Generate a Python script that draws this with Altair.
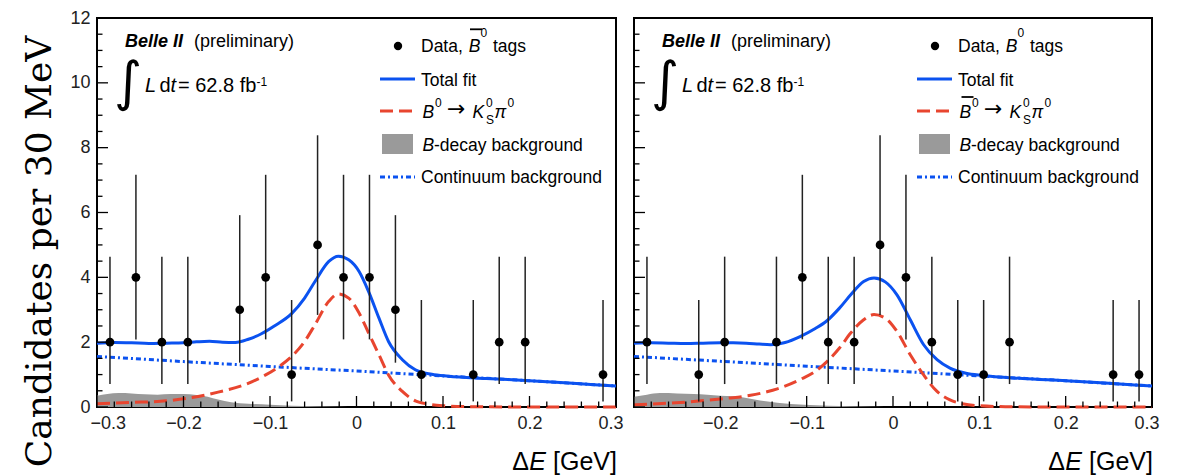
import altair as alt
import numpy as np
import pandas as pd

# ---------------------------------------------------------------
# Delta E distributions of B0 -> K0S pi0 candidates, split by flavour tag.
# Bin centres are 30 MeV apart; empty bins are not drawn.
# ---------------------------------------------------------------

# B0bar-tagged sample
BAR_BIN = [-0.285, -0.255, -0.225, -0.195, -0.135, -0.105, -0.075, -0.045,
           -0.015, 0.015, 0.045, 0.075, 0.135, 0.165, 0.195, 0.285]
BAR_COUNT = [2, 4, 2, 2, 3, 4, 1, 5, 4, 4, 3, 1, 1, 2, 2, 1]
BAR_ERR_LO = [0.708, 2.086, 0.708, 0.708, 1.367, 2.086, 0.173, 2.840,
              2.086, 2.086, 1.367, 0.173, 0.173, 0.708, 0.708, 0.173]
BAR_ERR_HI = [4.638, 7.163, 4.638, 4.638, 5.918, 7.163, 3.300, 8.382,
              7.163, 7.163, 5.918, 3.300, 3.300, 4.638, 4.638, 3.300]

BAR_TOTAL_X = [-0.300, -0.280, -0.260, -0.240, -0.220, -0.200, -0.185, -0.170,
               -0.155, -0.140, -0.125, -0.110, -0.095, -0.075, -0.060, -0.048,
               -0.032, -0.021, -0.009, 0.003, 0.014, 0.026, 0.037, 0.053,
               0.068, 0.087, 0.106, 0.150, 0.200, 0.250, 0.300]
BAR_TOTAL_Y = [1.97, 1.99, 1.98, 1.96, 1.97, 1.98, 2.01, 2.03,
               2.00, 1.99, 2.09, 2.26, 2.50, 2.88, 3.36, 3.87,
               4.49, 4.65, 4.54, 4.18, 3.56, 2.74, 2.02, 1.46,
               1.15, 1.01, 0.95, 0.88, 0.81, 0.73, 0.65]

BAR_SIG_X = [-0.300, -0.260, -0.220, -0.190, -0.160, -0.130, -0.105, -0.090,
             -0.075, -0.060, -0.048, -0.032, -0.021, -0.009, 0.003, 0.014,
             0.026, 0.037, 0.053, 0.068, 0.083, 0.100, 0.130, 0.200, 0.300]
BAR_SIG_Y = [0.10, 0.14, 0.19, 0.29, 0.46, 0.68, 0.99, 1.24,
             1.56, 2.02, 2.54, 3.26, 3.49, 3.36, 2.90, 2.28,
             1.61, 0.99, 0.48, 0.19, 0.09, 0.04, 0.01, 0.0, 0.0]

BAR_CONT_X = [-0.3, -0.2, -0.1, 0.0, 0.1, 0.2, 0.3]
BAR_CONT_Y = [1.56, 1.40, 1.25, 1.11, 0.96, 0.81, 0.65]

BAR_BKG_X = [-0.300, -0.288, -0.275, -0.260, -0.245, -0.230, -0.215, -0.200,
             -0.185, -0.172, -0.160, -0.145, -0.125, -0.100, -0.075, -0.050,
             -0.020, 0.000, 0.300]
BAR_BKG_Y = [0.35, 0.40, 0.43, 0.42, 0.39, 0.38, 0.40, 0.40,
             0.37, 0.32, 0.23, 0.15, 0.10, 0.07, 0.04, 0.02,
             0.01, 0.0, 0.0]

# B0-tagged sample
B0_BIN = [-0.285, -0.225, -0.195, -0.135, -0.105, -0.075, -0.045, -0.015,
          0.015, 0.045, 0.075, 0.105, 0.135, 0.255, 0.285]
B0_COUNT = [2, 1, 2, 2, 4, 2, 2, 5, 4, 2, 1, 1, 2, 1, 1]
B0_ERR_LO = [0.708, 0.173, 0.708, 0.708, 2.086, 0.708, 0.708, 2.840,
             2.086, 0.708, 0.173, 0.173, 0.708, 0.173, 0.173]
B0_ERR_HI = [4.638, 3.300, 4.638, 4.638, 7.163, 4.638, 4.638, 8.382,
             7.163, 4.638, 3.300, 3.300, 4.638, 3.300, 3.300]

B0_TOTAL_X = [-0.300, -0.280, -0.260, -0.240, -0.220, -0.200, -0.185, -0.170,
              -0.155, -0.142, -0.125, -0.107, -0.090, -0.0765, -0.062, -0.049,
              -0.034, -0.022, -0.009, 0.0046, 0.020, 0.0355, 0.051, 0.066,
              0.0845, 0.1035, 0.150, 0.200, 0.250, 0.300]
B0_TOTAL_Y = [1.97, 1.98, 1.97, 1.96, 1.97, 1.98, 1.98, 1.97,
              1.94, 1.92, 1.99, 2.18, 2.42, 2.66, 3.05, 3.46,
              3.87, 3.98, 3.86, 3.46, 2.69, 1.92, 1.46, 1.20,
              1.04, 0.97, 0.88, 0.81, 0.73, 0.65]

B0_SIG_X = [-0.300, -0.231, -0.192, -0.165, -0.146, -0.134, -0.105, -0.090,
            -0.0765, -0.062, -0.049, -0.034, -0.022, -0.009, 0.0046, 0.020,
            0.0355, 0.051, 0.066, 0.082, 0.100, 0.130, 0.200, 0.300]
B0_SIG_Y = [0.07, 0.17, 0.27, 0.36, 0.47, 0.56, 0.88, 1.10,
            1.40, 1.82, 2.28, 2.69, 2.85, 2.74, 2.33, 1.61,
            0.99, 0.48, 0.22, 0.09, 0.04, 0.01, 0.0, 0.0]

B0_CONT_X = [-0.3, -0.2, -0.1, 0.0, 0.1, 0.2, 0.3]
B0_CONT_Y = [1.56, 1.41, 1.26, 1.11, 0.96, 0.81, 0.65]

B0_BKG_X = [-0.300, -0.285, -0.270, -0.250, -0.231, -0.215, -0.200, -0.185,
            -0.173, -0.154, -0.134, -0.103, -0.075, -0.050, -0.020, 0.000, 0.300]
B0_BKG_Y = [0.32, 0.38, 0.43, 0.42, 0.40, 0.38, 0.35, 0.33,
            0.29, 0.20, 0.13, 0.07, 0.04, 0.02, 0.01, 0.0, 0.0]

X_LABELS = [-0.3, -0.2, -0.1, 0.0, 0.1, 0.2, 0.3]
Y_LABELS = [0, 2, 4, 6, 8, 10, 12]

# ---------------------------------------------------------------
SANS = "Liberation Sans"
BLUE = "#0b52f0"
RED = "#e8452f"
GREY = "#9a9a9a"
H = 389
DASH_SIG = [13, 6]
DASH_CONT = [5, 3, 2, 3]

X_MINOR = [v for v in np.round(np.arange(-0.3, 0.3001, 0.02), 3)
           if abs(v * 10 - round(v * 10)) > 1e-6]
Y_MINOR = [v for v in np.arange(0, 12.01, 0.5) if v % 2 != 0]

ONE = pd.DataFrame({"k": [0]})


def text(txt, x, y, size, style="n", font=SANS, align="left", baseline="alphabetic"):
    return alt.Chart(ONE).mark_text(
        font=font, fontSize=size,
        fontStyle="italic" if "i" in style else "normal",
        fontWeight="bold" if "b" in style else "normal",
        align=align, baseline=baseline, color="black",
    ).encode(x=alt.value(x), y=alt.value(y), text=alt.value(txt))


def hline(x1, x2, y, color, width, dash=None):
    props = dict(color=color, strokeWidth=width)
    if dash:
        props["strokeDash"] = dash
    return alt.Chart(ONE).mark_rule(**props).encode(
        x=alt.value(x1), x2=alt.value(x2), y=alt.value(y))


def panel(bins, counts, lo, hi, tot, sig, cont, bkg, width, left):
    xs = alt.Scale(domain=[-0.3, 0.3], nice=False, zero=False)
    ys = alt.Scale(domain=[0, 12], nice=False)
    x_axis = alt.Axis(
        values=X_LABELS if left else X_LABELS[1:], format="~g",
        labelFont=SANS, labelFontSize=18, labelColor="#222",
        ticks=False, tickSize=0, domain=False, grid=False,
        labelPadding=7, labelFlush=True, labelFlushOffset=7, title=None)
    if left:
        y_axis = alt.Axis(
            values=Y_LABELS, format="d", labelFont=SANS, labelFontSize=18,
            labelColor="#222", ticks=False, tickSize=0, domain=False,
            grid=False, labelPadding=7,
            title="Candidates per 30 MeV", titleFont="DejaVu Serif",
            titleFontSize=36, titleFontWeight="normal", titleColor="black",
            titleAngle=270, titleX=-47, titleY=233, titleAlign="center",
            titleBaseline="alphabetic")
    else:
        y_axis = None

    def X(f):
        return alt.X(f, type="quantitative", scale=xs, axis=x_axis)

    def Y(f):
        return alt.Y(f, type="quantitative", scale=ys, axis=y_axis)

    pts = pd.DataFrame({"x": bins, "n": counts, "lo": lo, "hi": hi})
    df_tot = pd.DataFrame({"x": tot[0], "y": tot[1]})
    df_sig = pd.DataFrame({"x": sig[0], "y": sig[1]})
    df_cont = pd.DataFrame({"x": cont[0], "y": cont[1]})
    df_bkg = pd.DataFrame({"x": bkg[0], "y": bkg[1]})

    layers = [
        alt.Chart(df_bkg).mark_area(color=GREY, interpolate="monotone").encode(x=X("x"), y=Y("y")),
        alt.Chart(df_cont).mark_line(color=BLUE, strokeWidth=3, strokeDash=DASH_CONT).encode(x=X("x"), y=Y("y")),
        alt.Chart(df_sig).mark_line(color=RED, strokeWidth=3, strokeDash=DASH_SIG, interpolate="monotone").encode(x=X("x"), y=Y("y")),
        alt.Chart(df_tot).mark_line(color=BLUE, strokeWidth=3, interpolate="monotone").encode(x=X("x"), y=Y("y")),
        alt.Chart(pts).mark_rule(color="#222", strokeWidth=1.5).encode(x=X("x"), y=Y("lo"), y2="hi"),
        alt.Chart(pts).mark_circle(size=76, color="black", opacity=1).encode(x=X("x"), y=Y("n")),
        # inward-pointing axis ticks
        alt.Chart(pd.DataFrame({"x": X_LABELS})).mark_rule(color="black", strokeWidth=1.3).encode(
            x=X("x"), y=alt.value(H), y2=alt.value(H - 11)),
        alt.Chart(pd.DataFrame({"x": X_MINOR})).mark_rule(color="black", strokeWidth=1.3).encode(
            x=X("x"), y=alt.value(H), y2=alt.value(H - 5.5)),
        alt.Chart(pd.DataFrame({"y": Y_LABELS})).mark_rule(color="black", strokeWidth=1.3).encode(
            y=Y("y"), x=alt.value(0), x2=alt.value(11)),
        alt.Chart(pd.DataFrame({"y": Y_MINOR})).mark_rule(color="black", strokeWidth=1.3).encode(
            y=Y("y"), x=alt.value(0), x2=alt.value(5.5)),
    ]

    # experiment label and luminosity
    layers += [
        text("Belle II", 28, 29, 18, "bi"),
        text("(preliminary)", 97, 29, 18),
        text("\u222b", 31, 66, 54, font="DejaVu Sans", align="center", baseline="middle"),
        text("L", 48, 74, 20, "i"),
        text("d", 62.5, 74, 20),
        text("t", 73.5, 74, 20, "i"),
        text("= 62.8 fb", 81, 74, 20),
        text("-1", 159.5, 68, 12),
    ]

    # legend
    layers += [
        alt.Chart(ONE).mark_circle(size=70, color="black", opacity=1).encode(
            x=alt.value(301), y=alt.value(28)),
        text("Data,", 324, 34, 17.5),
        text("B", 371.7, 34, 17.5, "i"),
        text("0", 383.5, 19, 12),
        text("tags", 396, 34, 17.5),
        hline(283, 318, 61, BLUE, 3),
        text("Total fit", 324, 67.5, 17.5),
        hline(283, 318, 93, RED, 3, DASH_SIG),
        text("B", 325.4, 99.6, 17.5, "i"),
        text("0", 338, 89, 12),
        text("\u2192", 350, 98, 22, font="DejaVu Sans"),
        text("K", 375.5, 99.6, 17.5, "i"),
        text("0", 389, 89, 12),
        text("S", 389, 106.3, 12),
        text("\u03c0", 397.5, 99.6, 17.5, "i"),
        text("0", 410.5, 89, 12),
        alt.Chart(ONE).mark_rect(color=GREY).encode(
            x=alt.value(285), x2=alt.value(316), y=alt.value(116), y2=alt.value(136)),
        text("B", 325.4, 133.3, 17.5, "i"),
        text("-decay background", 337, 133.3, 17.5),
        hline(283, 318, 159, BLUE, 3, DASH_CONT),
        text("Continuum background", 324, 165.4, 17.5),
    ]
    # bar over the B for the anti-B0 flavour
    if left:
        layers.append(hline(373, 385, 11.3, "black", 1.8))
    else:
        layers.append(hline(327.5, 339.5, 79, "black", 1.8))

    # x-axis title
    layers += [
        text("[GeV]", width + 1, 452, 25, align="right"),
        text("E", width + 1 - 71, 452, 25, "i", align="right"),
        text("\u0394", width + 1 - 88, 452, 25, align="right"),
    ]

    return alt.layer(*layers).properties(width=width, height=H)


left = panel(BAR_BIN, BAR_COUNT, BAR_ERR_LO, BAR_ERR_HI,
             (BAR_TOTAL_X, BAR_TOTAL_Y), (BAR_SIG_X, BAR_SIG_Y),
             (BAR_CONT_X, BAR_CONT_Y), (BAR_BKG_X, BAR_BKG_Y), 519, True)
right = panel(B0_BIN, B0_COUNT, B0_ERR_LO, B0_ERR_HI,
              (B0_TOTAL_X, B0_TOTAL_Y), (B0_SIG_X, B0_SIG_Y),
              (B0_CONT_X, B0_CONT_Y), (B0_BKG_X, B0_BKG_Y), 518, False)

chart = alt.hconcat(left, right, spacing=18, bounds="flush").properties(
    padding={"left": 19, "top": 8, "right": 5, "bottom": 0},
    background="white",
).configure_view(stroke="black", strokeWidth=2)

chart.save("out.html", embed_options={"renderer": "svg", "actions": False})
